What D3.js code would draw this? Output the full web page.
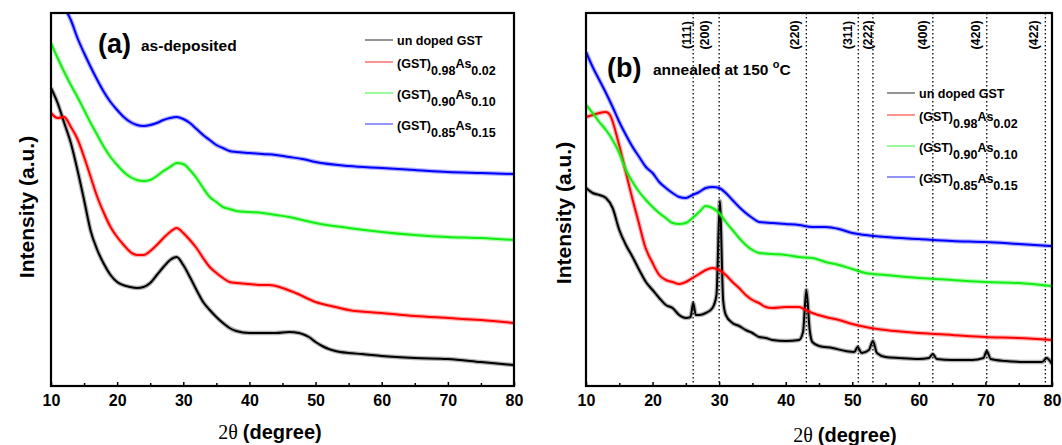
<!DOCTYPE html>
<html lang="en">
<head>
<meta charset="UTF-8">
<title>XRD patterns of As-doped GST films</title>
<style>
  body { margin: 0; background: #fff; }
  svg { display: block; font-family: "Liberation Sans", Arial, sans-serif; }
  .tick text { font-weight: bold; font-size: 16px; fill: #000; }
  .tick line { stroke: #000; stroke-width: 1.5; }
</style>
</head>
<body>
<svg id="chart" width="1062" height="445"></svg>
<script src="https://cdn.jsdelivr.net/npm/d3@7/dist/d3.min.js"></script>
<script>
// values: [2theta (deg), intensity (a.u.)]
const asDepUndoped = [[10,298],[11,283],[12,263],[13,243],[14,216],[15,186],[16,155],[17,136],[18,122],[19,111],[20,104],[22,99],[23,98],[24,99],[25,103],[26,111],[27,119],[28,126],[29,129],[30,121],[31,109],[32,96],[33,84],[34,76],[35,69],[36,63],[37,58],[38,55],[40,53],[42,53],[44,53],[46,54],[47.5,53],[48,52],[49,49],[50,44],[51,40],[52,37],[53,35],[55,33],[57,32],[60,30],[65,28],[70,27],[75,24],[80,21]];
const asDep098 = [[10,273],[11,268],[12,269],[13,259],[14,247],[15,229],[16,209],[17,189],[18,173],[19,159],[20,149],[21,141],[22,134],[23,131],[24,131],[25,135],[26,141],[27,148],[28,154],[29,158],[30,153],[31,146],[32,138],[33,128],[34,119],[35,113],[36,108],[37,104],[38,103],[40,102],[42,101],[43,101],[45,98],[47,93],[50,84],[53,79],[55,76],[60,73],[65,70],[70,68],[75,66],[80,63]];
const asDep090 = [[10,343],[11,328],[12,314],[13,301],[14,289],[15,276],[16,263],[17,251],[18,239],[19,229],[20,221],[21,214],[22,209],[23,206],[24,205],[25,206],[26,210],[27,215],[28,219],[29,223],[30,222],[31,216],[32,208],[33,198],[34,189],[35,184],[36,179],[37,177],[38,175],[40,174],[42,173],[44,171],[46,169],[48,166],[50,163],[55,158],[60,154],[65,151],[70,149],[75,148],[80,146]];
const asDep085 = [[11,398],[12.5,373],[13,366],[14,348],[15,333],[16,319],[17,306],[18,294],[19,284],[20,276],[21,269],[22,264],[23,261],[24,260],[25,261],[26,263],[27,266],[28,268],[29,269],[30,267],[31,263],[32,257],[33,251],[34,246],[35,241],[36,238],[37,235],[38,234],[40,233],[42,232],[44,231],[46,229],[48,227],[50,224],[55,220],[60,218],[65,216],[70,214],[75,213],[80,212]];

const ann150Undoped = [[10,198],[11,193],[12,191],[13,188],[14,178],[15,156],[16,141],[17,129],[18,116],[19,104],[20,96],[21,88],[22,81],[23,78],[24,71],[25,68],[25.7,69],[26.1,83],[26.5,71],[27,71],[28,73],[29,78],[29.6,91],[30.1,185],[30.6,86],[31,71],[32,63],[33,60],[34,56],[35,53],[36,49],[37,48],[38,46],[40,45],[42,46],[42.6,54],[43.1,96],[43.6,56],[44,44],[45,40],[47,38],[49,35],[50.3,34],[50.8,39],[51.4,33],[52.5,36],[53.1,45],[53.7,33],[55,29],[57,28],[60,27],[61.5,28],[62.1,32],[62.7,27],[65,26],[68,26],[69.7,28],[70.2,35],[70.8,27],[73,25],[76,24],[78.5,24],[79.2,28],[79.8,24],[80,22]];
const ann150098 = [[10,269],[11,271],[12,273],[13,274],[13.6,271],[14.9,243],[15.9,216],[16.9,189],[17.9,164],[18.9,139],[20,123],[21,111],[22,106],[23,104],[24,102],[25,104],[26,108],[27,112],[28,116],[29,118],[30,116],[31,111],[32,104],[33,98],[34,91],[35,86],[36,83],[37,79],[38,78],[40,79],[42,79],[43,76],[44,73],[46,69],[48,66],[50,62],[52,59],[55,56],[60,53],[65,51],[70,49],[75,48],[80,46]];
const ann150090 = [[10,281],[11,273],[12,264],[13,256],[14,246],[15,233],[16,216],[17,204],[18,194],[19,186],[20,179],[21,173],[22,168],[23,163],[24,162],[25,163],[26,168],[27,174],[28,180],[29,178],[30,173],[31,164],[32,156],[33,148],[34,141],[35,136],[36,133],[38,132],[40,131],[42,129],[44,128],[46,124],[48,121],[50,117],[52,113],[55,111],[60,108],[65,106],[70,104],[75,103],[80,100]];
const ann150085 = [[10,334],[11,319],[12,306],[13,293],[14,279],[15,264],[16,251],[17,239],[18,229],[19,219],[20,213],[21,204],[22,198],[23,193],[24,189],[25,188],[26,191],[27,194],[28,198],[29,199],[30,198],[31,193],[32,186],[33,179],[34,173],[35,168],[36,164],[38,163],[40,162],[42,161],[44,159],[46,159],[48,157],[50,153],[52,151],[55,149],[60,147],[65,145],[70,144],[75,142],[80,140]];

// legend names: odd entries are subscripts
const seriesNames = [["un doped GST"], ["(GST)", "0.98", "As", "0.02"], ["(GST)", "0.90", "As", "0.10"], ["(GST)", "0.85", "As", "0.15"]];
const seriesColors = ["#000000", "#ff0000", "#11ee11", "#0000ff"];

const xTicks = [10, 20, 30, 40, 50, 60, 70, 80];
const xMinorTicks = [15, 25, 35, 45, 55, 65, 75];

const planeLabels = ["(111)", "(200)", "(220)", "(311)", "(222)", "(400)", "(420)", "(422)"];
const planeAngles = [26.1, 30.0, 43.1, 50.9, 53.1, 62.1, 70.2, 79.0];

const svg = d3.select("#chart");
svg.append("rect").attr("width", 1062).attr("height", 445).attr("fill", "#fff");

const panels = [
  {
    id: "a", left: 51, right: 514, top: 13, bottom: 386,
    series: [asDepUndoped, asDep098, asDep090, asDep085],
    tag: "(a)", tagX: 98, tagY: 53, note: "as-deposited", noteX: 141, noteY: 51,
    legendX: 365, legendRows: [40, 62, 93, 124],
    yLabelX: 26, yLabelY: 207, xLabelX: 270, xLabelY: 439
  },
  {
    id: "b", left: 586, right: 1052, top: 13, bottom: 386,
    series: [ann150Undoped, ann150098, ann150090, ann150085],
    tag: "(b)", tagX: 607, tagY: 77, note: "annealed at 150 ", noteX: 653, noteY: 75,
    legendX: 887, legendRows: [93, 115, 146, 177],
    yLabelX: 563, yLabelY: 213, xLabelX: 845, xLabelY: 442,
    planes: true
  }
];

// label nudges (px, left of the dotted line)
const planeNudge = [-6, -14, -11, -10, -5, -10, -11, -11];

panels.forEach(p => {
  const g = svg.append("g");
  const x = d3.scaleLinear().domain([10, 80]).range([p.left, p.right]);
  const y = d3.scaleLinear().domain([0, 373]).range([p.bottom, p.top]);

  g.append("clipPath").attr("id", "clip-" + p.id)
    .append("rect").attr("x", p.left).attr("y", p.top)
    .attr("width", p.right - p.left).attr("height", p.bottom - p.top);

  // dotted reflection markers
  if (p.planes) {
    g.selectAll("line.plane").data(planeAngles).enter().append("line")
      .attr("class", "plane")
      .attr("x1", d => x(d)).attr("x2", d => x(d))
      .attr("y1", p.top).attr("y2", p.bottom)
      .attr("stroke", "#000").attr("stroke-width", 1.3)
      .attr("stroke-dasharray", "1.6,2.4");

    g.selectAll("text.plane").data(planeLabels).enter().append("text")
      .attr("class", "plane")
      .attr("transform", (d, i) => `translate(${x(planeAngles[i]) + planeNudge[i]},35) rotate(-90)`)
      .attr("text-anchor", "middle").attr("dominant-baseline", "central")
      .attr("font-weight", "bold").attr("font-size", 12.5)
      .text(d => d);
  }

  const line = d3.line().x(d => x(d[0])).y(d => y(d[1])).curve(d3.curveMonotoneX);
  const curves = g.append("g").attr("clip-path", `url(#clip-${p.id})`);
  p.series.forEach((s, i) => {
    // soft band gives the noisy trace its width
    curves.append("path").datum(s).attr("d", line)
      .attr("fill", "none").attr("stroke", seriesColors[i])
      .attr("stroke-width", 4.5).attr("stroke-opacity", 0.3)
      .attr("stroke-linejoin", "round");
    curves.append("path").datum(s).attr("d", line)
      .attr("fill", "none").attr("stroke", seriesColors[i])
      .attr("stroke-width", 2).attr("stroke-linejoin", "round");
  });

  // frame
  g.append("rect").attr("x", p.left).attr("y", p.top)
    .attr("width", p.right - p.left).attr("height", p.bottom - p.top)
    .attr("fill", "none").attr("stroke", "#000").attr("stroke-width", 2.2);

  // bottom axis, ticks pointing inward
  const ax = g.append("g").attr("transform", `translate(0,${p.bottom})`)
    .call(d3.axisBottom(x).tickValues(xTicks).tickSize(-4).tickPadding(9).tickFormat(d3.format("d")));
  ax.select(".domain").remove();
  ax.selectAll(".tick text").attr("font-family", null).attr("font-size", null);

  const axm = g.append("g").attr("transform", `translate(0,${p.bottom})`)
    .call(d3.axisBottom(x).tickValues(xMinorTicks).tickSize(-3).tickFormat(""));
  axm.select(".domain").remove();

  // axis titles
  g.append("text")
    .attr("transform", `translate(${p.yLabelX},${p.yLabelY}) rotate(-90)`)
    .attr("text-anchor", "middle").attr("dominant-baseline", "central")
    .attr("font-weight", "bold").attr("font-size", 21)
    .text("Intensity (a.u.)");

  const xt = g.append("text").attr("x", p.xLabelX).attr("y", p.xLabelY)
    .attr("text-anchor", "middle").attr("font-size", 20);
  xt.append("tspan").attr("font-family", "'Liberation Serif', 'Times New Roman', serif").text("2\u03B8 ");
  xt.append("tspan").attr("font-weight", "bold").text("(degree)");

  // panel tag and condition
  g.append("text").attr("x", p.tagX).attr("y", p.tagY)
    .attr("font-weight", "bold").attr("font-size", 27).text(p.tag);
  const nt = g.append("text").attr("x", p.noteX).attr("y", p.noteY)
    .attr("font-weight", "bold").attr("font-size", 15.5).text(p.note);
  if (p.id === "b") {
    nt.append("tspan").attr("dy", -7).attr("font-size", 11).text("o");
    nt.append("tspan").attr("dy", 7).text("C");
  }

  // legend
  seriesNames.forEach((name, i) => {
    const ly = p.legendRows[i];
    g.append("line")
      .attr("x1", p.legendX).attr("x2", p.legendX + 28)
      .attr("y1", ly).attr("y2", ly)
      .attr("stroke", seriesColors[i]).attr("stroke-opacity", 0.65).attr("stroke-width", 1.3);
    const t = g.append("text").attr("x", p.legendX + 32)
      .attr("y", ly + (name.length === 1 ? 5 : 6))
      .attr("font-weight", "bold").attr("font-size", 12.5);
    name.forEach((part, j) => {
      t.append("tspan").attr("dy", j === 0 ? 0 : (j % 2 ? 7 : -7)).text(part);
    });
  });
});
</script>
</body>
</html>
